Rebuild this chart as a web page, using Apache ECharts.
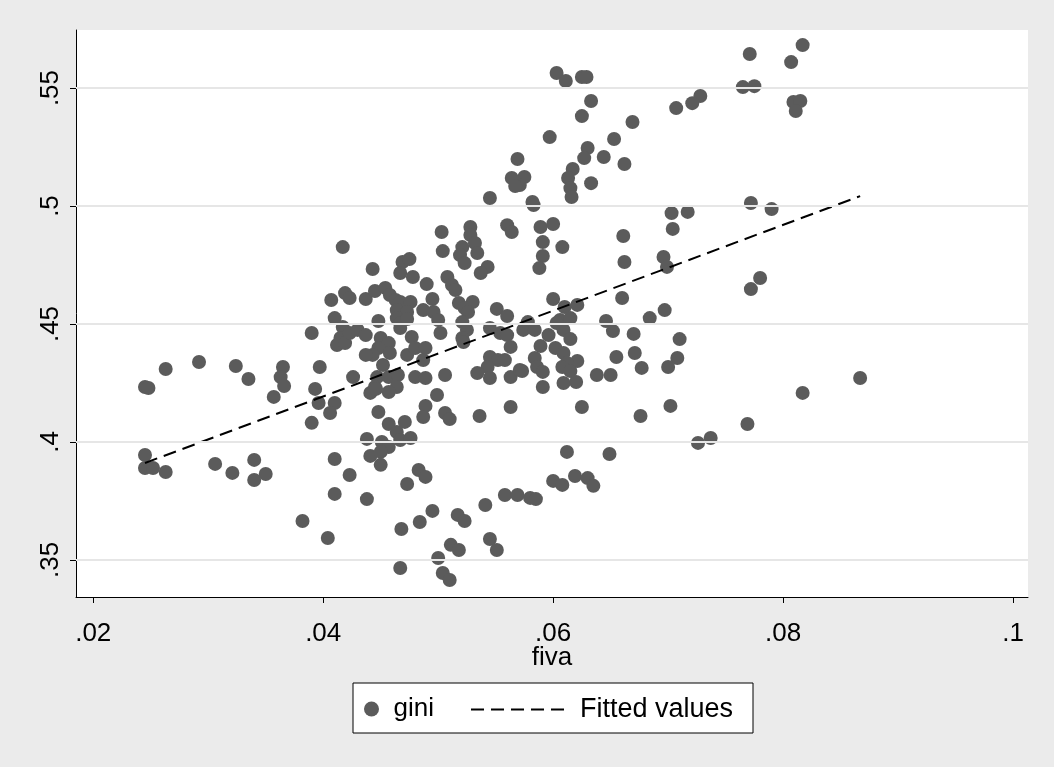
<!DOCTYPE html>
<html>
<head>
<meta charset="utf-8">
<script src="https://cdn.jsdelivr.net/npm/echarts@6/dist/echarts.min.js"></script>
<style>html,body{margin:0;padding:0;background:#ebebeb;}#c{width:1054px;height:767px;}</style>
</head>
<body>
<div id="c"></div>
<script>
const fiva = [
.0245,.0248,.0263,.0292,.0324,.0335,.0365,.0363,.0366,.0357,.0390,.0245,.0245,.0252,.0263,.0306,.0321,.0340,.0350,.0340,
.0417,.0443,.0469,.0475,.0467,.0478,.0407,.0419,.0423,.0437,.0445,.0454,.0458,.0463,.0467,.0476,.0464,.0473,.0410,.0448,
.0464,.0467,.0473,.0467,.0390,.0417,.0415,.0412,.0419,.0423,.0430,.0437,.0450,.0457,.0448,.0443,.0437,.0458,.0473,.0477,
.0480,.0452,.0397,.0426,.0447,.0457,.0465,.0393,.0445,.0464,.0480,
.0396,.0410,.0406,.0441,.0446,.0457,.0448,.0457,.0464,.0471,.0467,.0476,.0438,.0451,.0457,.0441,.0450,.0450,.0410,.0423,
.0410,.0438,.0483,.0473,.0382,.0404,.0468,.0484,.0467,
.0503,.0528,.0528,.0532,.0521,.0519,.0523,.0534,.0560,.0564,.0504,.0543,.0537,.0490,.0508,.0512,.0515,.0495,.0487,.0496,
.0500,.0518,.0523,.0530,.0526,.0551,.0560,.0521,.0525,.0521,.0522,.0545,.0554,.0560,.0574,.0502,.0563,.0489,.0487,.0545,
.0552,.0558,.0543,.0534,.0545,.0563,.0571,.0489,.0506,.0499,
.0489,.0487,.0506,.0510,.0536,.0563,.0489,.0558,.0569,.0580,.0541,.0495,.0517,.0523,.0545,.0551,.0511,.0518,.0500,.0504,.0510,
.0603,.0611,.0625,.0629,.0633,.0625,.0669,.0597,.0653,.0630,.0627,.0644,.0662,.0569,.0575,.0571,.0617,.0613,.0615,.0616,
.0633,.0582,.0583,.0589,.0600,.0591,.0608,.0661,.0564,.0567,.0545,
.0591,.0588,.0662,.0600,.0610,.0621,.0606,.0615,.0603,.0660,.0578,.0584,.0596,.0609,.0615,.0589,.0602,.0609,.0646,.0652,
.0670,.0671,.0584,.0586,.0591,.0573,.0621,.0612,.0608,.0615,.0655,.0638,.0650,.0591,.0609,.0620,.0677,
.0625,.0676,.0612,.0649,.0585,.0600,.0608,.0619,.0630,.0635,
.0771,.0765,.0775,.0728,.0721,.0707,.0703,.0717,.0704,.0772,.0790,.0696,.0699,.0772,.0780,.0684,.0697,.0710,.0708,.0700,
.0702,.0726,.0737,.0769,.0817,.0807,.0809,.0815,.0811,.0817,.0867
];
const gini = [
.4233,.4229,.4309,.4339,.4322,.4267,.4318,.4275,.4237,.4191,.4081,.3945,.3890,.3890,.3873,.3907,.3869,.3924,.3864,.3839,
.4826,.4733,.4763,.4775,.4716,.4699,.4602,.4631,.4610,.4606,.4640,.4653,.4623,.4602,.4593,.4593,.4559,.4551,.4525,.4513,
.4525,.4504,.4521,.4483,.4462,.4487,.4441,.4411,.4419,.4462,.4475,.4453,.4441,.4419,.4398,.4369,.4369,.4377,.4369,.4445,
.4398,.4326,.4318,.4275,.4275,.4275,.4284,.4225,.4233,.4233,.4275,
.4165,.4165,.4123,.4208,.4225,.4212,.4127,.4076,.4042,.4085,.4008,.4017,.4013,.4000,.3979,.3941,.3958,.3903,.3928,.3860,
.3780,.3758,.3881,.3822,.3665,.3593,.3631,.3661,.3466,
.4890,.4911,.4877,.4843,.4826,.4792,.4758,.4801,.4919,.4890,.4809,.4742,.4716,.4669,.4699,.4665,.4644,.4606,.4559,.4551,
.4517,.4589,.4568,.4593,.4551,.4564,.4534,.4508,.4475,.4441,.4424,.4483,.4462,.4453,.4475,.4462,.4403,.4398,.4347,.4360,
.4347,.4347,.4318,.4292,.4271,.4275,.4305,.4271,.4284,.4199,
.4153,.4106,.4123,.4097,.4110,.4148,.3852,.3775,.3775,.3763,.3733,.3708,.3691,.3665,.3589,.3542,.3564,.3542,.3508,.3445,.3415,
.5564,.5530,.5547,.5547,.5445,.5381,.5356,.5292,.5284,.5246,.5203,.5208,.5178,.5199,.5123,.5089,.5157,.5119,.5076,.5038,
.5097,.5017,.5004,.4911,.4924,.4847,.4826,.4873,.5119,.5085,.5034,
.4788,.4737,.4763,.4606,.4572,.4581,.4517,.4525,.4504,.4610,.4508,.4475,.4453,.4475,.4436,.4407,.4398,.4377,.4513,.4470,
.4458,.4377,.4356,.4318,.4297,.4301,.4343,.4335,.4318,.4301,.4360,.4284,.4284,.4233,.4250,.4254,.4314,
.4148,.4110,.3958,.3949,.3758,.3835,.3818,.3856,.3847,.3814,
.5644,.5504,.5508,.5466,.5436,.5415,.4970,.4975,.4903,.5013,.4987,.4784,.4742,.4648,.4695,.4525,.4559,.4436,.4356,.4318,
.4153,.3996,.4017,.4076,.5682,.5610,.5441,.5445,.5403,.4208,.4271
];
const fitFiva = [0.0245, 0.0867];
const fitGini = [0.3911, 0.5042];
const xTicks = [0.02, 0.04, 0.06, 0.08, 0.1];
const yTicks = [0.35, 0.4, 0.45, 0.5, 0.55];

const FONT = '"Liberation Sans", Arial, Helvetica, sans-serif';
const FS = 26;
const DASH = [13, 7];
const fmt = v => String(+(+v).toFixed(2)).replace(/^0\./, '.');
const points = fiva.map((x, i) => [x, gini[i]]);
const fitPts = fitFiva.map((x, i) => [x, fitGini[i]]);

const chart = echarts.init(document.getElementById('c'), null, {renderer: 'canvas'});
chart.setOption({
  backgroundColor: '#ebebeb',
  animation: false,
  textStyle: {fontFamily: FONT},
  grid: {left: 76, right: 26, top: 30, bottom: 170, show: true, backgroundColor: '#ffffff', borderWidth: 0},
  xAxis: {
    type: 'value', min: 0.0185, max: 0.1013,
    name: 'fiva', nameLocation: 'middle', nameGap: 48, nameMoveOverlap: false,
    nameTextStyle: {fontSize: FS, color: '#000', fontFamily: FONT},
    axisLine: {show: true, lineStyle: {color: '#000', width: 1}},
    axisTick: {show: true, inside: false, length: 6, customValues: xTicks, lineStyle: {color: '#000'}},
    axisLabel: {customValues: xTicks, formatter: fmt, fontSize: FS, color: '#000', margin: 24, fontFamily: FONT},
    splitLine: {show: false}
  },
  yAxis: {
    type: 'value', min: 0.3343, max: 0.5746,
    axisLine: {show: true, lineStyle: {color: '#000', width: 1}},
    axisTick: {show: true, inside: false, length: 6, customValues: yTicks, lineStyle: {color: '#000'}},
    axisLabel: {customValues: yTicks, formatter: fmt, rotate: 90, fontSize: FS, color: '#000', margin: 12, fontFamily: FONT},
    splitLine: {show: false}
  },
  legend: [
    {data: ['gini'], left: 364, top: 696, itemWidth: 34, itemHeight: 15, padding: 0,
     textStyle: {fontSize: FS, color: '#000', fontFamily: FONT}},
    {data: ['Fitted values'], left: 470, top: 696, itemWidth: 98, itemHeight: 15, padding: 0,
     itemStyle: {opacity: 0},
     lineStyle: {color: '#000', width: 2, type: DASH},
     textStyle: {fontSize: 27, color: '#000', fontFamily: FONT, padding: [0, 0, 0, 6]}}
  ],
  graphic: [
    {type: 'rect', z: 0, shape: {x: 353, y: 683, width: 400, height: 50},
     style: {fill: '#ffffff', stroke: '#000000', lineWidth: 1}}
  ],
  series: [
    {type: 'line', name: 'grid', data: [], z: 1, silent: true,
     markLine: {silent: true, symbol: 'none', label: {show: false},
       lineStyle: {color: '#e6e6e6', type: 'solid', width: 2},
       data: yTicks.map(v => ({yAxis: v}))}},
    {type: 'scatter', name: 'gini', data: points, symbol: 'circle', symbolSize: 14, z: 2,
     itemStyle: {color: '#5b5b5b', opacity: 1}},
    {type: 'line', name: 'Fitted values', data: fitPts, symbol: 'none', showSymbol: false, z: 3,
     lineStyle: {color: '#000', width: 2, type: DASH}, itemStyle: {color: '#000'}}
  ]
});
</script>
</body>
</html>
